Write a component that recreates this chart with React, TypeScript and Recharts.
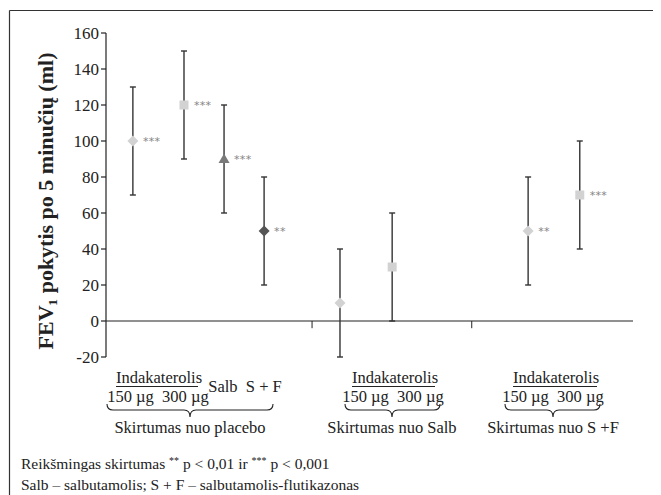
import React from "react";
import { ScatterChart, Scatter, XAxis, YAxis, ErrorBar, ReferenceLine } from "recharts";

// ---- data ----
const treatments = [
  "Indakaterolis 150 µg",
  "Indakaterolis 300 µg",
  "Salb",
  "S + F",
  "Indakaterolis 150 µg",
  "Indakaterolis 300 µg",
  "Indakaterolis 150 µg",
  "Indakaterolis 300 µg",
];
const xPos = [5.1, 14.8, 22.4, 30.0, 44.4, 54.3, 80.1, 89.9];
const means = [100, 120, 90, 50, 10, 30, 50, 70];
const halfCI = [30, 30, 30, 30, 30, 30, 30, 30];
const sigMarks = ["***", "***", "***", "**", "", "", "**", "***"];
const comparisons = ["Skirtumas nuo placebo", "Skirtumas nuo Salb", "Skirtumas nuo S +F"];
const yTicks = [-20, 0, 20, 40, 60, 80, 100, 120, 140, 160];
const groupDividers = [39.1, 69.4];

// which points belong to which marker series
const lightDiamondIdx = [0, 4, 6];
const lightSquareIdx = [1, 5, 7];
const triangleIdx = [2];
const darkDiamondIdx = [3];

const build = (idx: number[]) =>
  idx.map((i) => ({ name: treatments[i], x: xPos[i], y: means[i], err: halfCI[i], sig: sigMarks[i] }));

const SERIF = "'Liberation Serif', 'Times New Roman', serif";
const INK = "#222";

const Sig = ({ cx, cy, sig }: any) =>
  sig ? (
    <text x={cx + 10} y={cy + 3.5} fontSize={11} fill="#858585" fontFamily="'DejaVu Sans', sans-serif" letterSpacing={0.3}>
      {sig}
    </text>
  ) : null;

const makeShape = (kind: string, fill: string) => (props: any) => {
  const { cx, cy, payload } = props;
  let mark: any = null;
  if (kind === "diamond") {
    const r = 5.5;
    mark = <polygon points={`${cx},${cy - r} ${cx + r},${cy} ${cx},${cy + r} ${cx - r},${cy}`} fill={fill} />;
  } else if (kind === "square") {
    const h = 4.5;
    mark = <rect x={cx - h} y={cy - h} width={2 * h} height={2 * h} fill={fill} />;
  } else {
    mark = <polygon points={`${cx},${cy - 5.5} ${cx + 5.5},${cy + 4} ${cx - 5.5},${cy + 4}`} fill={fill} />;
  }
  return (
    <g>
      {mark}
      <Sig cx={cx} cy={cy} sig={payload.sig} />
    </g>
  );
};

const errProps = { dataKey: "err", direction: "y" as const, width: 3, stroke: "#333", strokeWidth: 1.4 };

const Brace = ({ x1, x2, xm }: { x1: number; x2: number; xm: number }) => {
  const y0 = 404;
  const y1 = 410;
  const y2 = 417;
  const d = `M ${x1} ${y0} Q ${x1} ${y1} ${x1 + 6} ${y1} L ${xm - 6} ${y1} Q ${xm} ${y1} ${xm} ${y2} Q ${xm} ${y1} ${xm + 6} ${y1} L ${x2 - 6} ${y1} Q ${x2} ${y1} ${x2} ${y0}`;
  return <path d={d} fill="none" stroke={INK} strokeWidth={1.1} />;
};

const pre = { whiteSpace: "pre" as const };

const GroupLabel = ({
  cx, lineX1, lineX2, doseCx, braceX1, braceX2, tip, title,
}: any) => (
  <g fontFamily={SERIF} fill={INK} fontSize={16.5} textAnchor="middle">
    <text x={cx} y={383}>Indakaterolis</text>
    <line x1={lineX1} y1={386.5} x2={lineX2} y2={386.5} stroke={INK} strokeWidth={1} />
    <text x={doseCx} y={402} style={pre}>{"150 µg  300 µg"}</text>
    <Brace x1={braceX1} x2={braceX2} xm={tip} />
    <text x={tip} y={433}>{title}</text>
  </g>
);

export default function App() {
  return (
    <div style={{ position: "relative", width: 653, height: 487 }}>
      <ScatterChart width={653} height={487} margin={{ top: 25, right: 28, bottom: 138, left: 0 }}>
        <XAxis type="number" dataKey="x" domain={[0, 100]} hide />
        <YAxis
          type="number"
          dataKey="y"
          domain={[-20, 160]}
          ticks={yTicks}
          interval={0}
          width={98}
          tickSize={5}
          tickMargin={2}
          axisLine={{ stroke: INK, strokeWidth: 1.2 }}
          tickLine={{ stroke: INK, strokeWidth: 1.2 }}
          tick={{ fill: INK, fontSize: 17, fontFamily: SERIF }}
        />
        <ReferenceLine y={0} stroke={INK} strokeWidth={1.2} />
        {groupDividers.map((g) => (
          <ReferenceLine
            key={g}
            segment={[{ x: g, y: 0 }, { x: g, y: -4 }]}
            stroke={INK}
            strokeWidth={1}
          />
        ))}
        <Scatter data={build(lightDiamondIdx)} isAnimationActive={false} shape={makeShape("diamond", "#d2d2d2")}>
          <ErrorBar {...errProps} />
        </Scatter>
        <Scatter data={build(lightSquareIdx)} isAnimationActive={false} shape={makeShape("square", "#d2d2d2")}>
          <ErrorBar {...errProps} />
        </Scatter>
        <Scatter data={build(triangleIdx)} isAnimationActive={false} shape={makeShape("triangle", "#7a7a7a")}>
          <ErrorBar {...errProps} />
        </Scatter>
        <Scatter data={build(darkDiamondIdx)} isAnimationActive={false} shape={makeShape("diamond", "#555")}>
          <ErrorBar {...errProps} />
        </Scatter>
      </ScatterChart>
      <svg
        width={653}
        height={487}
        style={{ position: "absolute", left: 0, top: 0, pointerEvents: "none" }}
      >
        <g transform="translate(-8,-8)">
          <line x1={9.5} y1={10.5} x2={661} y2={10.5} stroke="#333" strokeWidth={1.2} />
          <line x1={9.5} y1={10.5} x2={9.5} y2={495} stroke="#333" strokeWidth={1.2} />
          <text
            x={53}
            y={201}
            transform="rotate(-90 53 201)"
            textAnchor="middle"
            fontFamily={SERIF}
            fontWeight="bold"
            fontSize={22}
            fill={INK}
          >
            FEV₁ pokytis po 5 minučių (ml)
          </text>

          <GroupLabel cx={159} lineX1={116} lineX2={198} doseCx={158} braceX1={107} braceX2={273} tip={190} title={comparisons[0]} />
          <text x={245} y={392} fontFamily={SERIF} fontSize={16.5} fill={INK} textAnchor="middle" style={pre}>
            {"Salb  S + F"}
          </text>
          <GroupLabel cx={395} lineX1={352} lineX2={435} doseCx={393} braceX1={345} braceX2={440} tip={392} title={comparisons[1]} />
          <GroupLabel cx={556} lineX1={513} lineX2={597} doseCx={553} braceX1={505} braceX2={600} tip={553} title={comparisons[2]} />

          <g fontFamily={SERIF} fontSize={15.5} fill={INK}>
            <text x={21} y={469}>
              Reikšmingas skirtumas <tspan fontSize={10} dy={-5}>**</tspan>
              <tspan dy={5}> p &lt; 0,01 ir </tspan>
              <tspan fontSize={10} dy={-5}>***</tspan>
              <tspan dy={5}> p &lt; 0,001</tspan>
            </text>
            <text x={21} y={490}>Salb – salbutamolis; S + F – salbutamolis-flutikazonas</text>
          </g>
        </g>
      </svg>
    </div>
  );
}
